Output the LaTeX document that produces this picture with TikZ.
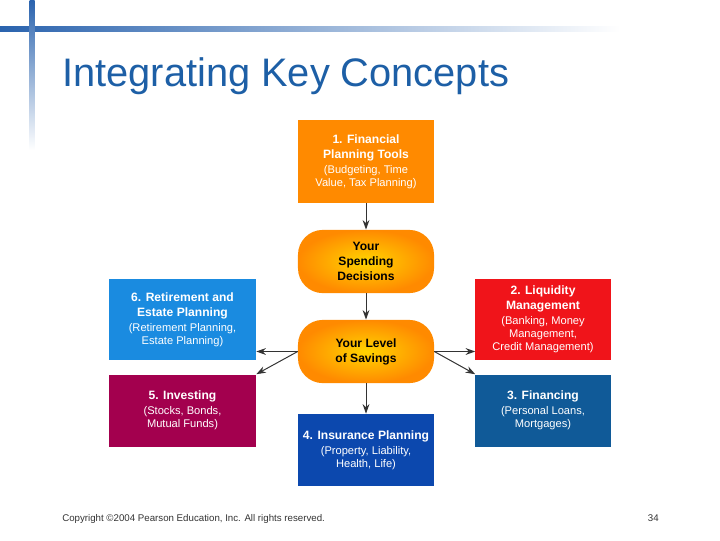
\documentclass[tikz,border=0pt]{standalone}
\usepackage{fontspec}
\setmainfont{Liberation Sans}
\usetikzlibrary{arrows.meta, positioning}
\definecolor{corange}{HTML}{FF8A00}
\definecolor{cyellow}{HTML}{FFD400}
\definecolor{csky}{HTML}{1A8BE0}
\definecolor{cred}{HTML}{F0141A}
\definecolor{cmaroon}{HTML}{A3004E}
\definecolor{cnavy}{HTML}{105A98}
\definecolor{croyal}{HTML}{0C48AE}
\definecolor{cline}{HTML}{2A63AE}
\definecolor{ctitle}{HTML}{1D5FA6}
\definecolor{cgrey}{HTML}{333333}
\newcommand{\hd}[1]{{\fontsize{8.6}{9.2}\selectfont\bfseries #1}}
\tikzset{
  area/.style={fill=#1, text=white, align=center, minimum width=3.4cm, inner sep=0pt,
    font=\fontsize{7.9}{9.2}\selectfont},
  pill/.style={rectangle, rounded corners=0.62cm, draw=none,
    shading=radial, inner color=cyellow, outer color=corange, minimum width=3.4cm,
    minimum height=1.58cm, align=center, font=\fontsize{8.6}{10.6}\selectfont\bfseries},
  link/.style={-{Stealth[length=2.4mm, width=1.7mm]}, draw=cgrey, line width=0.7pt},
}
\begin{document}
\begin{tikzpicture}[x=0.025cm, y=-0.025cm]
  \useasboundingbox (0,0) rectangle (720,540);
  % slide frame
  \shade[left color=cline, right color=white] (0,26) rectangle (620,31);
  \shade[top color=cline, bottom color=white] (29.5,0) rectangle (34.5,150);
  \node[anchor=base west, text=ctitle, font=\fontsize{28.3}{30}\selectfont, inner sep=0pt] (title) at (62,86) {Integrating Key Concepts};
  % centre column
  \node[area=corange, minimum height=2.075cm] (tools) at (366,161.5)
    {\hd{1. Financial}\\[1.5pt]\hd{Planning Tools}\\[1.5pt](Budgeting, Time\\Value, Tax Planning)};
  \node[pill] (spend) at (366,261.5) {Your\\Spending\\Decisions};
  \node[pill] (save) at (366,351.5) {Your Level\\of Savings};
  \node[area=croyal, minimum height=1.8cm] (insure) at (366,450)
    {\hd{4. Insurance Planning}\\[1.5pt](Property, Liability,\\Health, Life)};
  % left and right
  \node[area=csky, minimum width=3.675cm, minimum height=2.025cm] (retire) at (182.5,319.5)
    {\hd{6. Retirement and}\\[1.5pt]\hd{Estate Planning}\\[1.5pt](Retirement Planning,\\Estate Planning)};
  \node[area=cmaroon, minimum width=3.675cm, minimum height=1.8cm] (invest) at (182.5,410.5)
    {\hd{5. Investing}\\[1.5pt](Stocks, Bonds,\\Mutual Funds)};
  \node[area=cred, minimum width=3.375cm, minimum height=2.025cm] (liquid) at (543,319.5)
    {\hd{2. Liquidity}\\[1.5pt]\hd{Management}\\[1.5pt](Banking, Money\\Management,\\Credit Management)};
  \node[area=cnavy, minimum width=3.375cm, minimum height=1.8cm] (finance) at (543,410.5)
    {\hd{3. Financing}\\[1.5pt](Personal Loans,\\Mortgages)};
  % arrows
  \draw[link] (tools) -- (spend);
  \draw[link] (spend) -- (save);
  \draw[link] (save) -- (insure);
  \draw[link] (save.west) -- (save.west -| retire.east);
  \draw[link] (save.west) -- (invest.north east);
  \draw[link] (save.east) -- (save.east -| liquid.west);
  \draw[link] (save.east) -- (finance.north west);
  % footer
  \node[anchor=base west, font=\fontsize{6.9}{8}\selectfont, text=cgrey, inner sep=0pt] (copy) at (62,521) {Copyright ©2004 Pearson Education, Inc. All rights reserved.};
  \node[anchor=base east, font=\fontsize{6.9}{8}\selectfont, text=cgrey, inner sep=0pt] (page) at (659,521) {34};
\end{tikzpicture}
\end{document}
